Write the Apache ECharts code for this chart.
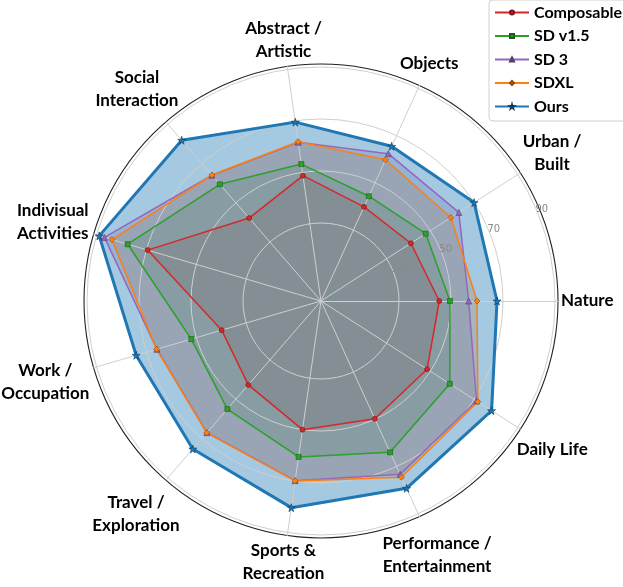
<!DOCTYPE html>
<html><head><meta charset="utf-8">
<script src="https://cdn.jsdelivr.net/npm/echarts@6/dist/echarts.min.js"></script>
<style>html,body{margin:0;padding:0;background:#fff}#c{width:623px;height:587px}</style>
</head><body><div id="c"></div>
<script>
const categories = ['Nature', 'Urban /\nBuilt', 'Objects', 'Abstract /\nArtistic', 'Social\nInteraction',
  'Indivisual\nActivities', 'Work /\nOccupation', 'Travel /\nExploration', 'Sports &\nRecreation',
  'Performance /\nEntertainment', 'Daily Life'];
const seriesNames = ['Composable', 'SD v1.5', 'SD 3', 'SDXL', 'Ours'];
const composable = [45.5, 41.1, 39.8, 48.7, 42.2, 69.5, 39.8, 42.7, 50.0, 49.8, 48.5];
const sdv15      = [49.6, 47.9, 44.3, 53.2, 59.4, 77.5, 52.0, 55.0, 60.6, 64.0, 58.9];
const sd3        = [56.8, 63.0, 62.3, 61.7, 64.0, 86.8, 65.8, 67.0, 69.8, 73.3, 71.1];
const sdxl       = [60.0, 59.4, 59.7, 61.9, 64.1, 83.8, 65.9, 67.1, 69.9, 74.5, 71.7];
const ours       = [67.7, 70.0, 65.4, 69.5, 81.8, 88.9, 74.1, 75.3, 80.3, 79.2, 78.0];
const allValues = [composable, sdv15, sd3, sdxl, ours];
const rTicks = [30, 50, 70, 90];

const colors = ['#d62728', '#2ca02c', '#9467bd', '#ff7f0e', '#1f77b4'];
const edgeColors = ['#7a1616', '#185c18', '#553b6c', '#924808', '#0f3c5c'];
const STAR = 'path://M50,0 L61,35 L98,35 L68,57 L79,91 L50,70 L21,91 L32,57 L2,35 L39,35 Z';
const symbols = ['circle', 'rect', 'triangle', 'diamond', STAR];
const symbolSizes = [5, 5, 6, 6, 8];
const fillOpacity = [0.25, 0.25, 0.25, 0.25, 0.4];
const lineWidths = [1.5, 1.5, 1.5, 1.5, 3];

const CX = 321, CY = 301, RMAX = 90, R = 234, ROUT = 237;
const LABEL_FONT = 'bold 17px Lato';
const LABEL_LH = 23;

const chart = echarts.init(document.getElementById('c'));

// category labels placed around the outer circle
const ctx = document.createElement('canvas').getContext('2d');
ctx.font = LABEL_FONT;
const graphics = [];
categories.forEach((name, k) => {
  const th = 2 * Math.PI * k / categories.length;
  const lines = name.split('\n');
  const halfW = Math.max(...lines.map(l => ctx.measureText(l).width)) / 2;
  const halfH = lines.length * LABEL_LH / 2;
  const d = ROUT + 3 + halfW * Math.abs(Math.cos(th)) + 0.8 * halfH * Math.abs(Math.sin(th));
  graphics.push({
    type: 'text', x: CX + d * Math.cos(th), y: CY - d * Math.sin(th), z: 20,
    style: { text: name, font: LABEL_FONT, fill: '#000', align: 'center', verticalAlign: 'middle', lineHeight: LABEL_LH }
  });
});
// radial tick labels at 22.5 degrees
const rlAng = 22.5 * Math.PI / 180;
rTicks.forEach(v => {
  const d = v * R / RMAX + 5;
  graphics.push({
    type: 'text', x: CX + d * Math.cos(rlAng), y: CY - d * Math.sin(rlAng), z: 20,
    style: { text: String(v), font: '10px "DejaVu Sans"', fill: '#8a8a8a', align: 'center', verticalAlign: 'middle' }
  });
});

// ring colours: tick index 0 is the centre, then 10,20,...,90
const ringColors = [];
for (let i = 0; i <= 9; i++) ringColors.push(rTicks.indexOf(i * 10) >= 0 ? '#cfcfcf' : 'rgba(0,0,0,0)');

const legendSeries = seriesNames.map((n, i) => ({
  type: 'line', name: n, xAxisIndex: 0, yAxisIndex: 0, data: [],
  symbol: symbols[i], symbolSize: symbolSizes[i],
  lineStyle: { color: colors[i], width: lineWidths[i] },
  itemStyle: { color: colors[i], borderColor: edgeColors[i], borderWidth: 0.5 }
}));

const option = {
  animation: false,
  backgroundColor: '#fff',
  grid: { show: false, left: 0, top: 0, width: 5, height: 5 },
  xAxis: { type: 'value', show: false },
  yAxis: { type: 'value', show: false },
  legend: {
    data: seriesNames, orient: 'vertical', left: 489, top: 0, z: 30,
    itemWidth: 34, itemHeight: 5, itemGap: 6.5, padding: [4, 40, 6, 5],
    backgroundColor: '#fff', borderColor: '#d0d0d0', borderWidth: 1, borderRadius: 4,
    selectedMode: false,
    textStyle: { fontFamily: 'Lato', fontWeight: 'bold', fontSize: 16, lineHeight: 17, color: '#000' }
  },
  radar: [
    {
      center: [CX, CY], radius: R, startAngle: 0, shape: 'circle', splitNumber: 9, z: 3,
      indicator: categories.map(n => ({ name: n, min: 0, max: RMAX })),
      axisName: { show: false },
      axisLine: { show: false },
      splitArea: { show: false },
      splitLine: { lineStyle: { color: ringColors, width: 1 } }
    },
    {
      center: [CX, CY], radius: ROUT, startAngle: 0, shape: 'circle', splitNumber: 1, z: 3,
      indicator: categories.map(n => ({ name: n, min: 0, max: 1 })),
      axisName: { show: false },
      axisLine: { show: true, lineStyle: { color: '#cfcfcf', width: 1 } },
      splitArea: { show: false },
      splitLine: { lineStyle: { color: ['rgba(0,0,0,0)', '#222'], width: 1.1 } }
    }
  ],
  graphic: graphics,
  series: legendSeries.concat([
    {
      type: 'radar', name: 'fills', radarIndex: 0, z: 1, silent: true,
      symbol: 'none',
      data: allValues.map((vals, i) => ({
        name: seriesNames[i], value: vals, symbol: 'none',
        lineStyle: { width: 0, opacity: 0 },
        areaStyle: { color: colors[i], opacity: fillOpacity[i] }
      }))
    },
    {
      type: 'radar', name: 'lines', radarIndex: 0, z: 5,
      data: allValues.map((vals, i) => ({
        name: seriesNames[i], value: vals,
        symbol: symbols[i], symbolSize: symbolSizes[i],
        itemStyle: { color: colors[i], borderColor: edgeColors[i], borderWidth: 0.6 },
        lineStyle: { color: colors[i], width: lineWidths[i] }
      }))
    }
  ])
};
chart.setOption(option);
</script>
</body></html>
